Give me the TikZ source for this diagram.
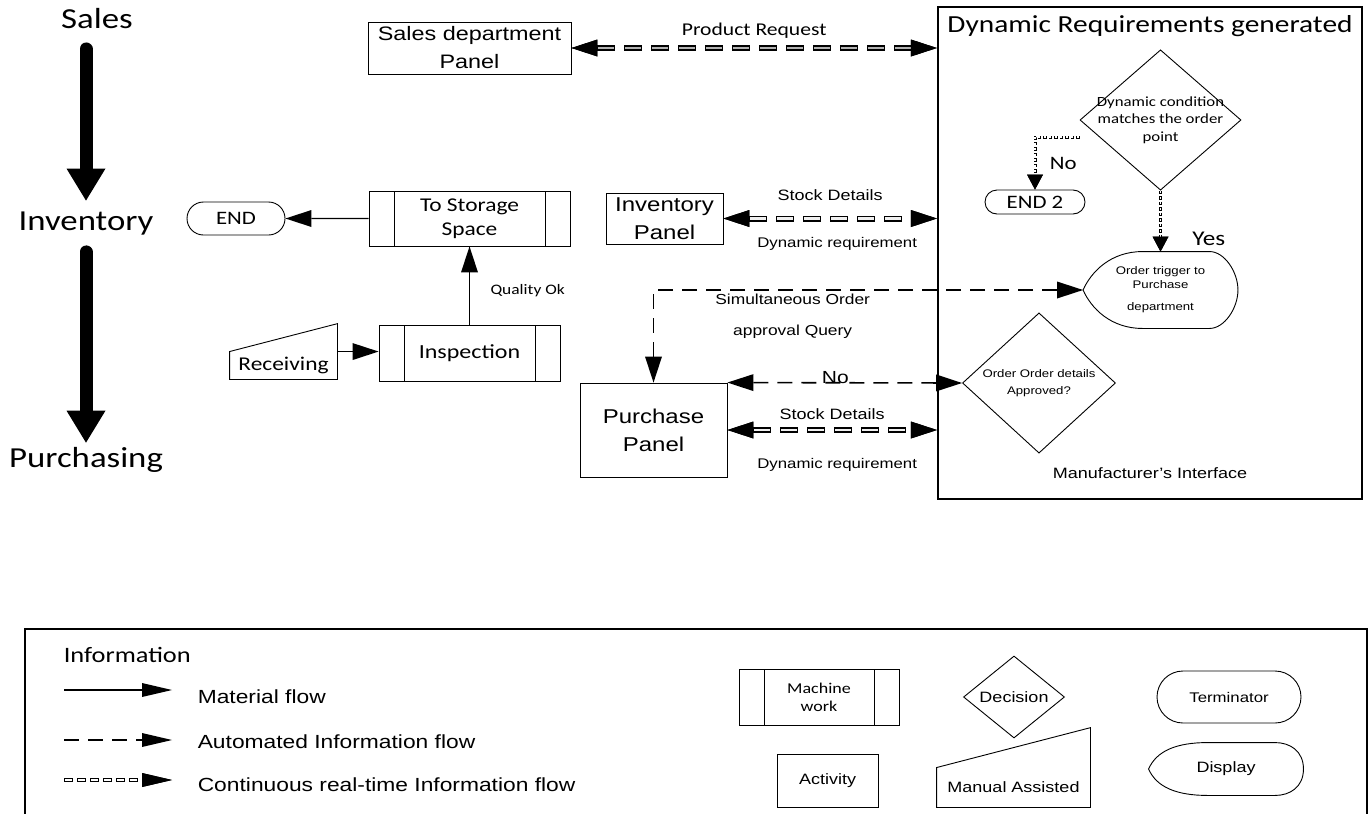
\documentclass[tikz,border=0pt]{standalone}
\usepackage{fontspec}
\setmainfont{Liberation Sans}[FakeStretch=1.2]
\newfontfamily\calfont{Carlito}[FakeStretch=1.2]
\usetikzlibrary{arrows.meta}
\usetikzlibrary{positioning}
\usetikzlibrary{shapes.geometric,shapes.misc}
\usetikzlibrary{calc}

\begin{document}
\begin{tikzpicture}[x=1pt, y=-1pt, node distance=100pt, line width=0.9pt,
  >={Triangle[length=26pt,width=17pt,line width=0pt,color=black,fill=black]}]
% Define block styles
\tikzstyle{side} = [font=\calfont\fontsize{29}{32}\selectfont]
\tikzstyle{block} = [rectangle, draw, align=center, inner sep=2pt]
\tikzstyle{machine} = [rectangle, draw, align=center, path picture={
    \draw ([xshift=25pt]path picture bounding box.north west) -- ([xshift=25pt]path picture bounding box.south west);
    \draw ([xshift=-25pt]path picture bounding box.north east) -- ([xshift=-25pt]path picture bounding box.south east);}]
\tikzstyle{terminator} = [rounded rectangle, draw, inner sep=2pt]
\tikzstyle{decision} = [diamond, draw, align=center, inner sep=0pt]
\tikzstyle{manual} = [align=center, append after command={\pgfextra{
    \draw (\tikzlastnode.south west) -- (\tikzlastnode.north west)
      -- ($(\tikzlastnode.north east)!-1!(\tikzlastnode.south east)$) -- (\tikzlastnode.south east) -- cycle;}}]
\tikzstyle{display} = [align=center, minimum width=154pt, append after command={\pgfextra{
    \draw (\tikzlastnode.west) .. controls ([xshift=8pt,yshift=18pt]\tikzlastnode.west) and ([xshift=-50pt]\tikzlastnode.north) .. ([xshift=-18pt]\tikzlastnode.north)
      -- ([xshift=49pt]\tikzlastnode.north) .. controls ([xshift=64pt]\tikzlastnode.north) and ([yshift=18pt]\tikzlastnode.east) .. (\tikzlastnode.east)
      .. controls ([yshift=-18pt]\tikzlastnode.east) and ([xshift=64pt]\tikzlastnode.south) .. ([xshift=49pt]\tikzlastnode.south)
      -- ([xshift=-18pt]\tikzlastnode.south) .. controls ([xshift=-50pt]\tikzlastnode.south) and ([xshift=8pt,yshift=-18pt]\tikzlastnode.west) .. (\tikzlastnode.west) -- cycle;}}]
\tikzstyle{bigarrow} = [draw, line width=13pt, line cap=round, -{Triangle[length=32pt,width=39pt,line width=0pt]}]
\tikzstyle{line} = [draw, ->, line width=1.4pt]
\tikzstyle{autoflow} = [draw, <->, line width=1.6pt, dash pattern=on 15pt off 9pt]
\tikzstyle{contflow} = [draw, <->, line width=6pt, dash pattern=on 18pt off 9pt,
    postaction={draw=gray!12, line width=2.6pt, dash pattern=on 16pt off 11pt, dash phase=26pt}]
\tikzstyle{contgray} = [draw, <->, line width=6pt, dash pattern=on 18pt off 9pt,
    postaction={draw=gray!60, line width=2.6pt, dash pattern=on 16pt off 11pt, dash phase=26pt}]
\tikzstyle{dotflow} = [>={Triangle[length=15pt,width=16pt,line width=0pt,color=black,fill=black]},
    draw, ->, line width=3pt, dash pattern=on 3.5pt off 2pt,
    postaction={draw=white, line width=1.1pt, dash pattern=on 2.1pt off 3.4pt, dash phase=4.8pt}]
\tikzstyle{legcont} = [draw, ->, line width=4pt, dash pattern=on 9pt off 4pt,
    postaction={draw=white, line width=1.6pt, dash pattern=on 7.4pt off 5.6pt, dash phase=12.2pt}]

\useasboundingbox (0,0) rectangle (1371,814);

    % Place nodes
    \node [side] (sales) at (97,19) {Sales};
    \node [side] (inventory) at (86,224) {Inventory};
    \node [side] (purchasing) at (86,460) {Purchasing};
    \node [machine, minimum width=201pt, minimum height=55pt, font=\calfont\fontsize{19.5}{24}\selectfont] (store) at (469.5,218.5) {To Storage\\Space};
    \node [block, above of=store, node distance=170.5pt, minimum width=203pt, minimum height=52pt, font=\fontsize{19.5}{28}\selectfont] (salesp) {Sales department\\Panel};
    \node [terminator, left of=store, node distance=233.5pt, minimum width=102pt, minimum height=33pt, font=\calfont\fontsize{19}{22}\selectfont] (end1) {END};
    \node [machine, below of=store, node distance=134.5pt, minimum width=181pt, minimum height=56pt, font=\calfont\fontsize{20}{24}\selectfont] (inspect) {Inspection};
    \node [manual, minimum width=107pt, minimum height=27pt, font=\calfont\fontsize{19.5}{24}\selectfont] (recv) at (283.5,365.5) {Receiving};
    \node [block, right of=store, node distance=195pt, minimum width=117pt, minimum height=51pt, font=\fontsize{20}{28}\selectfont] (invp) {Inventory\\Panel};
    \node [block, minimum width=147pt, minimum height=94pt, font=\fontsize{20}{28}\selectfont] (purchp) at (653.5,430) {Purchase\\Panel};
    \node [draw, line width=2.2pt, minimum width=424pt, minimum height=492pt] (bigbox) at (1150,253) {};
    \node [below=6pt of bigbox.north, font=\calfont\fontsize{24.5}{28}\selectfont] (reqtitle) {Dynamic Requirements generated};
    \node [above=18pt of bigbox.south, font=\fontsize{15}{18}\selectfont] (manuf) {Manufacturer's Interface};
    \node [decision, minimum width=161pt, minimum height=131pt, inner sep=-8.5pt, font=\calfont\fontsize{14}{17.5}\selectfont] (cond) at (1160.5,120) {Dynamic condition\\matches the order\\point};
    \node [terminator, minimum width=104pt, minimum height=24pt, font=\calfont\fontsize{19}{22}\selectfont] (end2) at (1035,202) {END 2};
    \node [display, below of=cond, node distance=170pt, minimum height=76pt, font=\fontsize{11}{14}\selectfont] (order) {Order trigger to\\Purchase\\[8pt]department};
    \node [decision, minimum width=153pt, minimum height=125pt, font=\fontsize{11}{17}\selectfont] (approved) at (1039,383) {Order Order details\\Approved?};

    % Draw edges
    \draw [bigarrow, shorten <=16pt, shorten >=8pt] (inventory |- sales.south) -- (inventory.north);
    \draw [bigarrow, shorten <=12.5pt, shorten >=1pt] (inventory.south) -- (purchasing.north);
    \draw [contgray] (salesp.east) -- (salesp.east -| bigbox.west)
        node [midway, above=3pt, font=\calfont\fontsize{18}{22}\selectfont] (prodreq) {Product Request};
    \draw [contflow] (invp.east) -- (invp.east -| bigbox.west)
        node [midway, above=12pt, font=\fontsize{15}{18}\selectfont] (stock1) {Stock Details}
        node [midway, below=13pt, xshift=7pt, font=\fontsize{14}{18}\selectfont] (dynreq1) {Dynamic requirement};
    \draw [line] (store) -- (end1);
    \draw [line] (inspect) -- (store)
        node [pos=0.43, right=17pt, font=\calfont\fontsize{14.5}{18}\selectfont] (qok) {Quality Ok};
    \draw [line] (recv.north east) -- (recv.north east -| inspect.west);
    \draw [autoflow] (order.west) -| (purchp.north)
        node [pos=0.338, below=0pt, align=center, font=\fontsize{14.5}{31}\selectfont] (simq) {Simultaneous Order\\approval Query};
    \draw [autoflow] (purchp.north east) -- (approved.west)
        node [pos=0.46, yshift=5pt, font=\fontsize{17.5}{20}\selectfont] (no1) {No};
    \draw [contflow] (purchp.east) -- (purchp.east -| bigbox.west)
        node [midway, above=4pt, font=\fontsize{15}{18}\selectfont] (stock2) {Stock Details}
        node [midway, below=22pt, xshift=5pt, font=\fontsize{14}{18}\selectfont] (dynreq2) {Dynamic requirement};
    \draw [dotflow] ([yshift=-17pt]cond.west) -| (end2.north)
        node [pos=0.75, right=10pt, font=\calfont\fontsize{19}{22}\selectfont] (no2) {No};
    \draw [dotflow] (cond) -- (order)
        node [pos=0.79, right=27pt, font=\calfont\fontsize{21}{24}\selectfont] (yes) {Yes};

    % Legend
    \node [draw, line width=1.6pt, minimum width=1342pt, minimum height=201pt] (legend) at (696,729.5) {};
    \node [anchor=west, font=\calfont\fontsize{22}{26}\selectfont] (info) at (60,655) {Information};
    \node [anchor=west, font=\fontsize{19}{22}\selectfont] (mattxt) at (194,697) {Material flow};
    \node [anchor=west, font=\fontsize{19}{22}\selectfont] (autotxt) at (194,742) {Automated Information flow};
    \node [anchor=west, font=\fontsize{19}{22}\selectfont] (conttxt) at (194,785) {Continuous real-time Information flow};
    \coordinate (matstart) at (64,690);
    \coordinate (autostart) at (64,740);
    \coordinate (contstart) at (64,780);
    \begin{scope}[>={Triangle[length=30pt,width=14pt,line width=0pt,color=black,fill=black]}]
    \draw [line, shorten >=22pt] (matstart) -- (matstart -| mattxt.west);
    \draw [autoflow, ->, shorten >=22pt] (autostart) -- (autostart -| autotxt.west);
    \draw [legcont, shorten >=22pt] (contstart) -- (contstart -| conttxt.west);
    \end{scope}
    \begin{scope}[font=\fontsize{15}{18}\selectfont]
    \node [machine, minimum width=160pt, minimum height=56pt, font=\calfont\fontsize{15}{18}\selectfont] (mach) at (819,697) {Machine\\work};
    \node [block, minimum width=101pt, minimum height=53pt] (actv) at (827.5,780.5) {Activity};
    \node [decision, minimum width=101pt, minimum height=82pt] (dec) at (1014,697) {Decision};
    \node [manual, minimum width=153pt, minimum height=39pt] (manassist) at (1013.5,787.5) {Manual Assisted};
    \node [terminator, minimum width=148pt, minimum height=52pt, font=\fontsize{14}{18}\selectfont] (term) at (1229,697) {Terminator};
    \node [display, minimum height=52pt] (disp) at (1226,769) {Display};
    \end{scope}
\end{tikzpicture}
\end{document}
